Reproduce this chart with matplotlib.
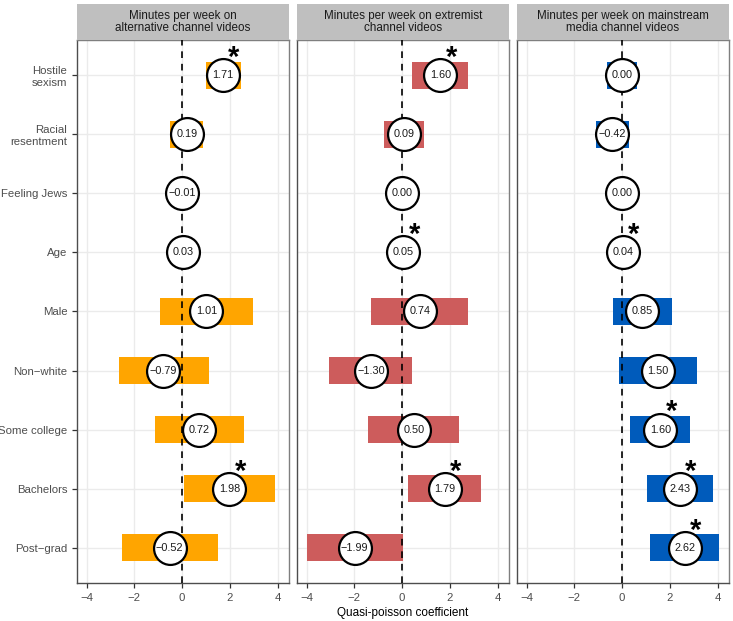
import numpy as np
import matplotlib
matplotlib.use("Agg")
import matplotlib.pyplot as plt

plt.rcParams["font.family"] = ["Liberation Sans", "DejaVu Sans"]

variables = ["Hostile\nsexism", "Racial\nresentment", "Feeling Jews", "Age", "Male",
             "Non\u2212white", "Some college", "Bachelors", "Post\u2212grad"]

panel_titles = ["Minutes per week on\nalternative channel videos",
                "Minutes per week on extremist\nchannel videos",
                "Minutes per week on mainstream\nmedia channel videos"]
panel_colors = ["#FFA500", "#CD5C5C", "#005BBB"]

# coefficient estimates
alt_coef = [1.71, 0.19, -0.01, 0.03, 1.01, -0.79, 0.72, 1.98, -0.52]
ext_coef = [1.60, 0.09, 0.00, 0.05, 0.74, -1.30, 0.50, 1.79, -1.99]
main_coef = [0.00, -0.42, 0.00, 0.04, 0.85, 1.50, 1.60, 2.43, 2.62]

# interval bounds
alt_lo = [1.00, -0.49, -0.03, 0.01, -0.92, -2.66, -1.12, 0.08, -2.51]
alt_hi = [2.45, 0.89, 0.01, 0.05, 2.98, 1.13, 2.58, 3.90, 1.52]
ext_lo = [0.42, -0.75, -0.01, 0.03, -1.30, -3.05, -1.41, 0.25, -4.00]
ext_hi = [2.75, 0.91, 0.01, 0.07, 2.75, 0.43, 2.37, 3.28, 0.02]
main_lo = [-0.62, -1.11, -0.01, 0.02, -0.38, -0.14, 0.34, 1.05, 1.17]
main_hi = [0.64, 0.28, 0.01, 0.06, 2.09, 3.14, 2.85, 3.81, 4.06]

# significance flags
alt_sig = [True, False, False, False, False, False, False, True, False]
ext_sig = [True, False, False, True, False, False, False, True, False]
main_sig = [False, False, False, True, False, False, True, True, True]

coefs = [alt_coef, ext_coef, main_coef]
lows = [alt_lo, ext_lo, main_lo]
highs = [alt_hi, ext_hi, main_hi]
sigs = [alt_sig, ext_sig, main_sig]

W, H = 733, 621
fig = plt.figure(figsize=(W / 100, H / 100), dpi=100)

panel_x = [77, 297, 517]
panel_w = 212
top_px, bot_px, strip_top = 40, 583, 4

y = np.arange(len(variables))
for k in range(3):
    ax = fig.add_axes([panel_x[k] / W, 1 - bot_px / H, panel_w / W, (bot_px - top_px) / H])
    lo = np.array(lows[k])
    hi = np.array(highs[k])
    c = np.array(coefs[k])

    ax.barh(y, hi - lo, left=lo, height=0.47, color=panel_colors[k], zorder=2)
    ax.axvline(0, color="black", lw=1.2, ls=(0, (4, 3.5)), zorder=3)
    ax.scatter(c, y, s=560, facecolor="white", edgecolor="black", lw=1.6, zorder=4)
    for yi, ci, si in zip(y, c, sigs[k]):
        ax.text(ci, yi, f"{ci:.2f}".replace("-", "\u2212"), ha="center", va="center",
                fontsize=7.8, color="#1a1a1a", zorder=5)
        if si:
            ax.text(ci + 0.45, yi - 0.29, "*", ha="center", va="center",
                    fontsize=21, fontweight="bold", zorder=5)

    ax.set_xlim(-4.4, 4.47)
    ax.set_ylim(len(variables) - 0.4, -0.6)
    ax.set_xticks([-4, -2, 0, 2, 4])
    ax.set_xticklabels(["\u22124", "\u22122", "0", "2", "4"])
    ax.set_yticks(y)
    ax.grid(True, color="#EBEBEB", lw=1.0, zorder=0)
    ax.set_axisbelow(True)
    ax.tick_params(colors="#333333", labelcolor="#4D4D4D", labelsize=8.2, length=3.5, width=0.9)
    if k == 0:
        ax.set_yticklabels(variables, linespacing=1.2)
    else:
        ax.set_yticklabels([])
        ax.tick_params(axis="y", length=0)
    for side, sp in ax.spines.items():
        sp.set_color("#4D4D4D" if side in ("left", "bottom") else "#7F7F7F")
        sp.set_linewidth(1.0)
    if k == 1:
        ax.set_xlabel("Quasi-poisson coefficient", fontsize=8.5, color="black", labelpad=3)

    # strip
    sax = fig.add_axes([panel_x[k] / W, 1 - top_px / H, panel_w / W, (top_px - strip_top) / H])
    sax.set_facecolor("#BFBFBF")
    sax.set_xticks([])
    sax.set_yticks([])
    for sp in sax.spines.values():
        sp.set_visible(False)
    sax.text(0.5, 0.5, panel_titles[k], ha="center", va="center", fontsize=8.4,
             color="#1A1A1A", linespacing=1.1, transform=sax.transAxes)

fig.savefig("out.png", dpi=100)
